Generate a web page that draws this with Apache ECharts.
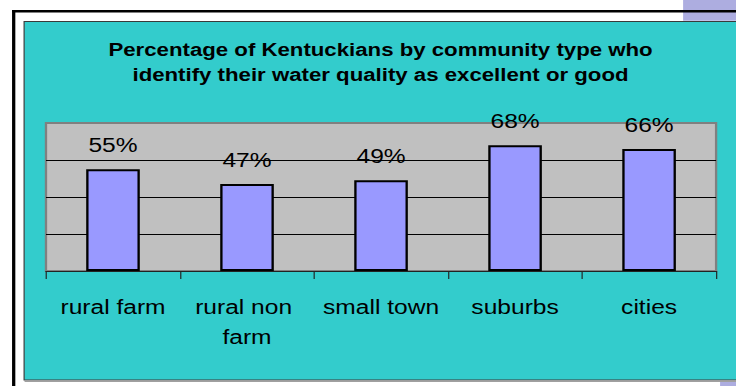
<!DOCTYPE html>
<html>
<head>
<meta charset="utf-8">
<script src="https://cdn.jsdelivr.net/npm/echarts@6/dist/echarts.min.js"></script>
<style>
  html, body { margin: 0; padding: 0; background: #ffffff; overflow: hidden; }
  #wrap { width: 736px; height: 386px; overflow: hidden; }
  /* the chart is laid out at its natural width and widened to fill the page */
  #chart { width: 629px; height: 386px; transform: scaleX(1.1701); transform-origin: 0 0; }
</style>
</head>
<body>
<div id="wrap"><div id="chart"></div></div>
<script>
const titleLines = [
  'Percentage of Kentuckians by community type who',
  'identify their water quality as excellent or good'
];
const communityTypes = ['rural farm', 'rural non farm', 'small town', 'suburbs', 'cities'];
const shareExcellentOrGood = [55, 47, 49, 68, 66];
const axisMax = 80;
const axisStep = 20;

const FONT = '"Liberation Sans", Arial, Helvetica, sans-serif';
const chart = echarts.init(document.getElementById('chart'), null, { renderer: 'svg' });

chart.setOption({
  animation: false,
  backgroundColor: '#ffffff',
  graphic: [
    // lavender strips at the page edge
    { type: 'rect', z: -30, shape: { x: 583.8, y: 0, width: 50, height: 20.7 }, style: { fill: '#ADADE0' } },
    { type: 'rect', z: -30, shape: { x: 615.4, y: 381, width: 20, height: 6 }, style: { fill: '#ADADE0' } },
    // black outer frame
    { type: 'rect', z: -20, shape: { x: 10.3, y: 10, width: 625, height: 2.6 }, style: { fill: '#000000' } },
    { type: 'rect', z: -20, shape: { x: 10.3, y: 10, width: 2.8, height: 380 }, style: { fill: '#000000' } },
    // teal chart panel
    { type: 'rect', z: -10, shape: { x: 20.6, y: 21.5, width: 640, height: 358.5 },
      style: { fill: '#33CCCC', stroke: '#3a3a3a', lineWidth: 1 } },
    { type: 'rect', z: -10, shape: { x: 21, y: 381, width: 640, height: 1 }, style: { fill: '#a0a0a0' } },
    // two-line title
    { type: 'text', z: 10, x: 325.2, y: 37,
      style: { text: titleLines.join('\n'), font: 'bold 19px ' + FONT, fill: '#000000',
               textAlign: 'center', lineHeight: 25 } }
  ],
  grid: {
    left: 39.3, right: 17, top: 123, bottom: 115,
    show: true, backgroundColor: '#C0C0C0', borderColor: '#808080', borderWidth: 2
  },
  xAxis: {
    type: 'category',
    data: communityTypes,
    axisLine: { show: true, lineStyle: { color: '#222222', width: 1 } },
    axisTick: { show: true, length: 8, lineStyle: { color: '#222222', width: 1 } },
    axisLabel: {
      color: '#000000', fontFamily: FONT, fontSize: 21, lineHeight: 30,
      margin: 21, width: 112, overflow: 'break', interval: 0
    }
  },
  yAxis: {
    type: 'value',
    min: 0, max: axisMax, interval: axisStep,
    axisLine: { show: false },
    axisTick: { show: false },
    axisLabel: { show: false },
    splitLine: { show: true, lineStyle: { color: ['#000000', '#000000', '#000000', '#000000', '#808080'], width: 1 } }
  },
  series: [{
    type: 'bar',
    data: shareExcellentOrGood,
    barWidth: '40%',
    itemStyle: { color: '#9999FF', borderColor: '#000000', borderWidth: 2 },
    label: {
      show: true, position: 'top', distance: 14,
      formatter: '{c}%', color: '#000000', fontFamily: FONT, fontSize: 21
    }
  }]
});
</script>
</body>
</html>
